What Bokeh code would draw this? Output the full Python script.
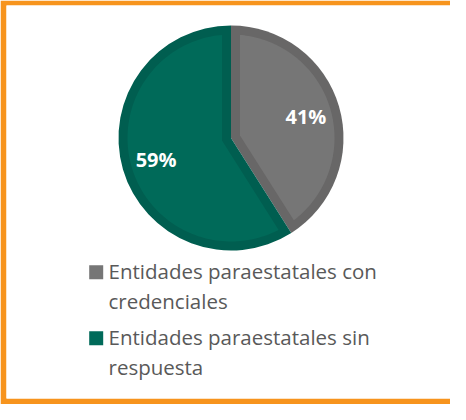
import numpy as np
from bokeh.plotting import figure
from bokeh.models import Range1d, ColumnDataSource
from bokeh.core.properties import value
from bokeh.embed import file_html
from bokeh.resources import INLINE

# ---- data ----
categories = ["Entidades paraestatales con\ncredenciales",
              "Entidades paraestatales sin\nrespuesta"]
shares = [41, 59]
pct_labels = ["41%", "59%"]
fill_colors = ["#767676", "#006A59"]
edge_colors = ["#686767", "#005E50"]

# ---- layout (page pixel coordinates, y negated so y goes up) ----
cx, cy = 238.5, -145.5
R = 112.5
inset = 9.0
label_r = 78.0

p = figure(width=450, height=404, output_backend="svg", toolbar_location=None,
           x_axis_location=None, y_axis_location=None,
           min_border_left=6, min_border_top=5, min_border_bottom=6, min_border_right=0)
p.x_range = Range1d(14, 458)
p.y_range = Range1d(-406, -13)
p.border_fill_color = "#F7941D"
p.background_fill_color = "white"
p.outline_line_color = None
p.xgrid.visible = False
p.ygrid.visible = False

fr = np.array(shares, dtype=float) / sum(shares)
ends = np.pi / 2 - 2 * np.pi * np.cumsum(fr)
starts = np.concatenate([[np.pi / 2], ends[:-1]])

# outer (darker) wedges
src = ColumnDataSource(dict(x=[cx] * len(shares), y=[cy] * len(shares),
                            start=list(starts), end=list(ends),
                            edge=edge_colors, fill=fill_colors))
p.wedge(x="x", y="y", radius=R, start_angle="start", end_angle="end",
        direction="clock", fill_color="edge", line_color=None, source=src)

# inner (lighter) inset regions
xs, ys = [], []
delta = np.arcsin(inset / (R - inset))
for a_s, a_e in zip(starts, ends):
    h = (a_s - a_e) / 2
    mid = a_s - h
    v = inset / np.sin(h)
    vx, vy = cx + v * np.cos(mid), cy + v * np.sin(mid)
    ang = np.linspace(a_s - delta, a_e + delta, 120)
    xs.append([vx] + list(cx + (R - inset) * np.cos(ang)))
    ys.append([vy] + list(cy + (R - inset) * np.sin(ang)))
p.patches(xs, ys, fill_color=fill_colors, line_color=None)

# percentage labels
mids = (starts + ends) / 2
p.text(x=list(cx + label_r * np.cos(mids)), y=list(cy + label_r * np.sin(mids)),
       text=pct_labels, text_color="white", text_font=value("Open Sans"),
       text_font_style="bold", text_font_size="20px",
       text_align="center", text_baseline="middle")

# legend (manual, wrapped)
leg_x_sq, leg_x_txt = 103.7, 116
sq_y0, txt_y0, item_gap, line_gap = -279.7, -278.7, 66, 30
sq_y = [sq_y0 - i * item_gap for i in range(len(categories))]
p.scatter(x=[leg_x_sq] * len(categories), y=sq_y, marker="square", size=14,
          fill_color=fill_colors, line_color=None)
tx, ty, tt = [], [], []
for i, lab in enumerate(categories):
    for j, line in enumerate(lab.split("\n")):
        tx.append(leg_x_txt)
        ty.append(txt_y0 - i * item_gap - j * line_gap)
        tt.append(line)
p.text(x=tx, y=ty, text=tt, text_color="#595959", text_font=value("Open Sans"),
       text_font_size="20.5px", text_align="left", text_baseline="alphabetic")

open("out.html", "w").write(file_html(p, INLINE))
